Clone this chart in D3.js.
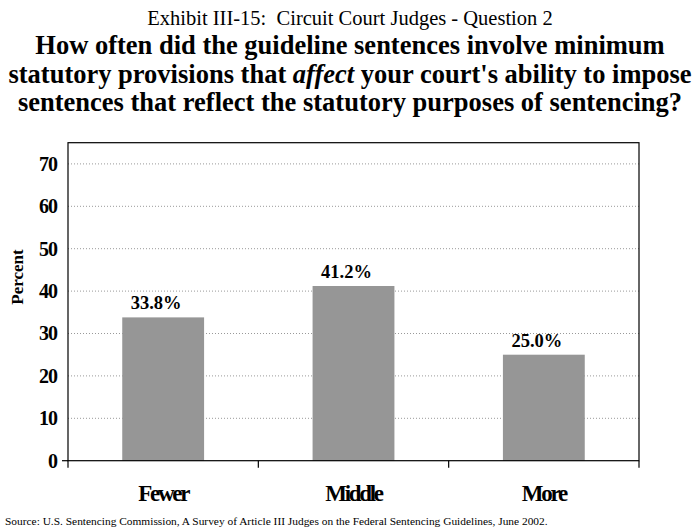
<!DOCTYPE html>
<html lang="en">
<head>
    <meta charset="UTF-8">
    <title>Exhibit III-15</title>
    <script src="https://d3js.org/d3.v7.min.js"></script>
    <style>
        body { margin: 0; background: #fff; }
        text { font-family: "Liberation Serif", "Times New Roman", serif; }
    </style>
</head>
<body>
<svg id="chart"></svg>
<script>
    // data
    const categories = ['Fewer', 'Middle', 'More'];
    const percents = [33.8, 41.2, 25.0];
    const valueLabels = ['33.8%', '41.2%', '25.0%'];
    const yTicks = [0, 10, 20, 30, 40, 50, 60, 70];

    const width = 700, height = 529;
    const m = {l: 68, r: 61, t: 142.7, b: 68.3};
    const svg = d3.select('#chart').attr('width', width).attr('height', height);

    const x = d3.scaleBand().domain(categories).range([m.l, width - m.r]).paddingInner(0.57).paddingOuter(0.285);
    const xEdge = d3.scaleBand().domain(categories).range([m.l, width - m.r]);
    const y = d3.scaleLinear().domain([0, 75]).range([height - m.b, m.t]);

    // titles
    svg.append('text').attr('x', 350).attr('y', 25).attr('text-anchor', 'middle')
        .attr('font-size', 20.5).text('Exhibit III-15:\u00a0 Circuit Court Judges - Question 2');
    const titleLines = [
        ['How often did the guideline sentences involve minimum'],
        ['statutory provisions that ', 'affect', ' your court\'s ability to impose'],
        ['sentences that reflect the statutory purposes of sentencing?']
    ];
    titleLines.forEach((parts, i) => {
        const t = svg.append('text').attr('x', 350).attr('y', 54 + i * 28.7)
            .attr('text-anchor', 'middle').attr('font-size', 26.5).attr('font-weight', 'bold');
        parts.forEach((p, j) => t.append('tspan').attr('font-style', j === 1 ? 'italic' : null).text(p));
    });

    // gridlines
    svg.append('g').selectAll('line').data(yTicks.filter(d => d > 0)).join('line')
        .attr('x1', m.l).attr('x2', width - m.r)
        .attr('y1', d => y(d)).attr('y2', d => y(d))
        .attr('stroke', '#999').attr('stroke-width', 1).attr('stroke-dasharray', '1,2');

    // bars
    svg.append('g').selectAll('rect').data(percents).join('rect')
        .attr('x', (d, i) => x(categories[i])).attr('width', x.bandwidth())
        .attr('y', d => y(d)).attr('height', d => y(0) - y(d))
        .attr('fill', '#969696');

    svg.append('g').selectAll('text').data(percents).join('text')
        .attr('x', (d, i) => x(categories[i]) + x.bandwidth() / 2)
        .attr('dx', -7)
        .attr('y', d => y(d) - 8).attr('text-anchor', 'middle')
        .attr('font-size', 18.5).attr('font-weight', 'bold')
        .text((d, i) => valueLabels[i]);

    // frame
    svg.append('rect').attr('x', m.l).attr('y', m.t)
        .attr('width', width - m.r - m.l).attr('height', y(0) - m.t)
        .attr('fill', 'none').attr('stroke', '#000').attr('stroke-width', 1.2);

    // y axis
    const yAxis = svg.append('g').attr('transform', `translate(${m.l},0)`)
        .call(d3.axisLeft(y).tickValues(yTicks).tickSize(0).tickPadding(11).tickFormat(d3.format('d')));
    yAxis.select('.domain').remove();
    yAxis.selectAll('text').attr('font-size', 20).attr('font-weight', 'bold')
        .attr('letter-spacing', '-1px').attr('fill', '#000');
    svg.append('line').attr('x1', m.l - 6).attr('x2', m.l).attr('y1', y(0)).attr('y2', y(0))
        .attr('stroke', '#000').attr('stroke-width', 1.2);

    // x axis ticks at category edges
    const edges = categories.map(c => xEdge(c)).concat([width - m.r]);
    svg.append('g').selectAll('line').data(edges).join('line')
        .attr('x1', d => d).attr('x2', d => d).attr('y1', y(0)).attr('y2', y(0) + 7)
        .attr('stroke', '#000').attr('stroke-width', 1.2);
    svg.append('g').selectAll('text').data(categories).join('text')
        .attr('x', d => xEdge(d) + xEdge.bandwidth() / 2).attr('y', 501)
        .attr('text-anchor', 'middle').attr('font-size', 23).attr('font-weight', 'bold')
        .attr('letter-spacing', '-2.3px').text(d => d);

    // axis title
    svg.append('text').attr('transform', 'translate(23,277) rotate(-90)')
        .attr('text-anchor', 'middle').attr('font-size', 17).attr('font-weight', 'bold')
        .text('Percent');

    // source
    svg.append('text').attr('x', 5).attr('y', 525).attr('font-size', 11.4)
        .text('Source: U.S. Sentencing Commission, A Survey of Article III Judges on the Federal Sentencing Guidelines, June 2002.');
</script>
</body>
</html>
